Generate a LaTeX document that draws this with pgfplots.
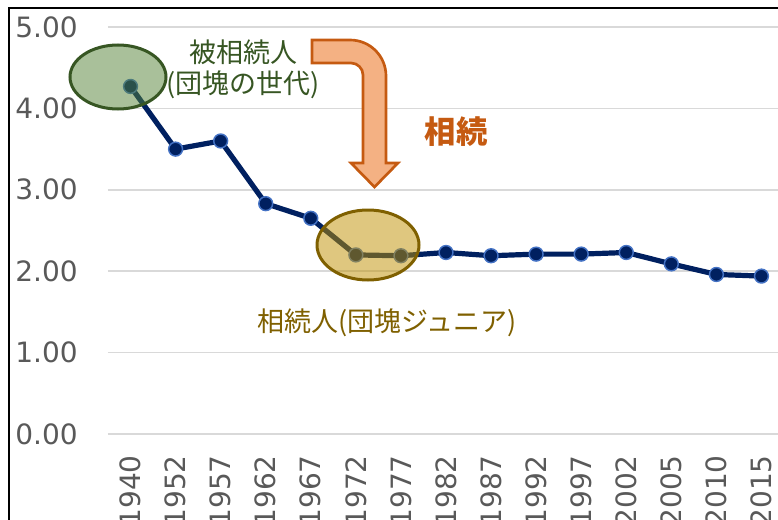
\documentclass[border=0pt]{standalone}
\usepackage{pgfplots}
\pgfplotsset{compat=1.18}
\usepackage{fontspec}
\setmainfont{DejaVu Sans}
\newfontfamily\jp{Noto Sans CJK JP}
\definecolor{navy}{HTML}{002060}
\definecolor{markblue}{HTML}{4472C4}
\definecolor{gridgray}{HTML}{D9D9D9}
\definecolor{tickgray}{HTML}{595959}
\definecolor{greenfill}{HTML}{548235}
\definecolor{greenline}{HTML}{375623}
\definecolor{goldfill}{HTML}{BF9000}
\definecolor{goldline}{HTML}{7F6000}
\definecolor{orangefill}{HTML}{F4B183}
\definecolor{orangeline}{HTML}{C55A11}
\begin{document}
\begin{tikzpicture}
\begin{axis}[
  scale only axis, width=507pt, height=305.25pt,
  at={(81pt,63.75pt)}, anchor=south west,
  xmin=-0.5, xmax=14.5, ymin=0, ymax=5,
  axis line style={draw=none},
  tick style={draw=none}, major tick length=0pt,
  ytick={0,1,2,3,4,5},
  ymajorgrids, grid style={color=gridgray, line width=1.1pt},
  /pgf/number format/assume math mode=true,
  yticklabel style={/pgf/number format/.cd, fixed, fixed zerofill, precision=2, /tikz/.cd,
    anchor=east, inner sep=0pt, xshift=-22.5pt, font=\fontsize{21pt}{21pt}\selectfont, text=tickgray},
  xtick={0,...,14},
  xticklabels={1940,1952,1957,1962,1967,1972,1977,1982,1987,1992,1997,2002,2005,2010,2015},
  xticklabel style={yshift=-15.75pt, rotate=90, anchor=east, inner sep=0pt,
    font=\fontsize{21pt}{21pt}\selectfont, text=tickgray},
  clip=false,
]
\addplot[navy, line width=3.9pt, line join=round, mark=*, mark size=5.2pt,
  mark options={fill=navy, draw=markblue, line width=1.1pt}]
  coordinates {(0,4.27) (1,3.50) (2,3.60) (3,2.83) (4,2.65) (5,2.20) (6,2.19)
  (7,2.23) (8,2.19) (9,2.21) (10,2.21) (11,2.23) (12,2.09) (13,1.96) (14,1.94)};
\end{axis}
\begin{scope}[x=0.75pt, y=-0.75pt, yshift=389.25pt]
  % frame
  \draw[black, line width=1.5pt] (9,530) -- (9,8) -- (790,8);
  % green ellipse
  \draw[greenline, line width=2.25pt, fill=greenfill, fill opacity=0.5]
    (118,77) ellipse [x radius=36pt, y radius=24pt];
  % gold ellipse
  \draw[goldline, line width=2.25pt, fill=goldfill, fill opacity=0.5]
    (368,245) ellipse [x radius=38.25pt, y radius=26.25pt];
  % arrow
  \draw[orangeline, line width=2pt, fill=orangefill, line join=miter]
    (312,40) -- (350,40) .. controls (370,40) and (386,56) .. (386,76)
    -- (386,163) -- (398,163) -- (374.5,187) -- (351,163) -- (363,163)
    -- (363,75) .. controls (363,68.4) and (357.6,63) .. (351,63)
    -- (312,63) -- cycle;
  % texts
  \node[text=greenline, font=\jp\fontsize{20.25pt}{20.25pt}\selectfont] at (243,52) {被相続人};
  \node[text=greenline, font=\jp\fontsize{20.25pt}{20.25pt}\selectfont] at (243,85) {(団塊の世代)};
  \node[text=orangeline, font=\jp\bfseries\fontsize{23.5pt}{23.5pt}\selectfont] at (456,132) {相続};
  \node[text=goldline, font=\jp\fontsize{20.25pt}{20.25pt}\selectfont] at (387,323) {相続人(団塊ジュニア)};
\end{scope}
\pgfresetboundingbox
\useasboundingbox (0,0) rectangle (583.5pt,389.25pt);
\end{tikzpicture}
\end{document}
